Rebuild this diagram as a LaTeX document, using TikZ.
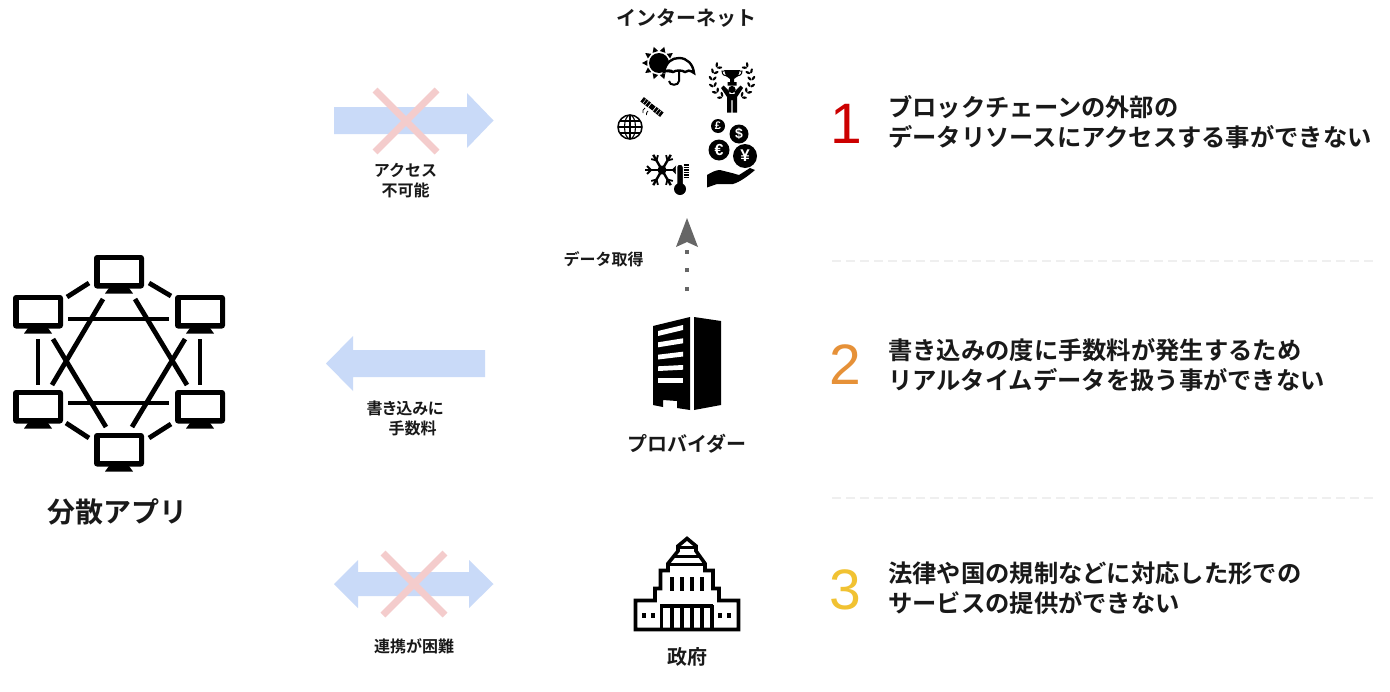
\documentclass[tikz,border=0pt]{standalone}
\usetikzlibrary{calc}
\usepackage{fontspec}
\setmainfont{Noto Sans CJK JP}[BoldFont={Noto Sans CJK JP Bold}]
\newfontfamily\numfont{Liberation Sans}
\definecolor{arrowblue}{HTML}{C9DAF8}
\definecolor{crossred}{HTML}{F4CCCC}
\definecolor{sepgrey}{HTML}{EFEFEF}
\definecolor{dotgrey}{HTML}{666666}
\definecolor{numred}{HTML}{CC0000}
\definecolor{numorange}{HTML}{E69138}
\definecolor{numyellow}{HTML}{F1C232}
\tikzset{
  lab/.style={font=\fontsize{16}{20}\selectfont\bfseries,inner sep=0pt,text=black!90,align=center},
  head/.style={font=\fontsize{20}{24}\selectfont\bfseries,inner sep=0pt,text=black!90},
  big/.style={font=\fontsize{28}{32}\selectfont\bfseries,inner sep=0pt,text=black!90},
  body/.style={font=\fontsize{24.3}{30}\selectfont\bfseries,inner sep=0pt,anchor=west,text=black!90,align=left},
  num/.style={font=\fontsize{57}{57}\numfont,inner sep=0pt},
  bluearrow/.style={fill=arrowblue,draw=none},
  crossline/.style={draw=crossred,line width=7pt},
  sep/.style={draw=sepgrey,line width=2pt,dash pattern=on 9pt off 5pt},
  link/.style={draw=black,line width=4.8pt},
  monitor/.pic={
    \fill[black,rounded corners=3pt] (0,0) rectangle (50,33.5);
    \fill[white] (5.5,5) rectangle (44.5,28);
    \fill[black] (15,33) -- (35,33) -- (39,38.5) -- (11,38.5) -- cycle;
  },
  coin/.style={fill=black,draw=none,circle,inner sep=0pt},
  icon/.style={line width=3.6pt,draw=black,line join=miter},
}
\begin{document}
\begin{tikzpicture}[x=1pt,y=-1pt]
\useasboundingbox (0,0) rectangle (1390,691);
\fill[white] (0,0) rectangle (1390,691);

% decentralised network
\pic at (94,255) {monitor};
\pic at (13,295) {monitor};
\pic at (175,295) {monitor};
\pic at (13,390) {monitor};
\pic at (175,390) {monitor};
\pic at (94,433) {monitor};
\draw[link] (67,297) -- (89,283);
\draw[link] (149,283) -- (171,296);
\draw[link] (68,319) -- (169,319);
\draw[link] (68,403) -- (169,403);
\draw[link] (38,339) -- (38,385);
\draw[link] (200,339) -- (200,385);
\draw[link] (103,299) -- (52,385);
\draw[link] (135,299) -- (187,385);
\draw[link] (53,339) -- (106,427);
\draw[link] (185,339) -- (132,427);
\draw[link] (66,423) -- (89,438);
\draw[link] (149,438) -- (171,424);
\node[big] (app) at (117.5,512) {分散アプリ};

% top arrow
\fill[bluearrow] (334,107) -- (467,107) -- (467,93) -- (493.5,120.5) -- (467,148) -- (467,134) -- (334,134) -- cycle;
\draw[crossline] (375,90) -- (437,152);
\draw[crossline] (437,90) -- (375,152);
\node[lab] (access) at (405.5,181) {アクセス\\不可能};

% middle arrow
\fill[bluearrow] (485,350) -- (353,350) -- (353,336) -- (326,363.5) -- (353,391) -- (353,377) -- (485,377) -- cycle;
\node[lab] (write1) at (405,408) {\addfontfeatures{RawFeature=+palt}書き込みに};
\node[lab] (write2) at (412.5,428) {手数料};

% bottom arrow
\fill[bluearrow] (334,584) -- (358,560) -- (358,572) -- (469,572) -- (469,560) -- (493.5,584) -- (469,608) -- (469,596) -- (358,596) -- (358,608) -- cycle;
\draw[crossline] (383,553) -- (445,615);
\draw[crossline] (445,553) -- (383,615);
\node[lab] (gov) at (414,646) {連携が困難};

% internet
\node[head] (internet) at (686,18) {インターネット};
% sun
\fill[black] (659,63) circle (10);
\foreach \a in {0,36,...,324}
  \fill[black] ($(659,63)+(\a:17)$) -- ($(659,63)+(\a+14:12)$) -- ($(659,63)+(\a-14:12)$) -- cycle;
% umbrella
\draw[black,line width=2.4pt,fill=white] (664,72) .. controls (666,62) and (672,58) .. (679,58) .. controls (687,58) and (693,64) .. (694,73) .. controls (690,70) and (687,70) .. (685,72) .. controls (682,70) and (676,70) .. (673,72) .. controls (671,70) and (667,70) .. (664,72) -- cycle;
\draw[black,line width=2pt] (679,71) -- (679,81) .. controls (679,86) and (669,86) .. (669,81);
% trophy + person
\fill[black] (732,89.5) circle (3.6);
\fill[black] (721,88) -- (723.5,85.5) -- (729,91) -- (729.5,94) -- (734.5,94) -- (735,91) -- (740.5,85.5) -- (743,88) -- (737,97) -- (737,112.5) -- (732.6,112.5) -- (732.6,100) -- (731.4,100) -- (731.4,112.5) -- (727,112.5) -- (727,97) -- cycle;
\fill[black] (724,70) -- (740,70) -- (738,76) -- (734,79) -- (734,82) -- (736.5,82) -- (736.5,85.5) -- (727.5,85.5) -- (727.5,82) -- (730,82) -- (730,79) -- (726,76) -- cycle;
\draw[black,line width=1pt] (724,71) -- (722,71) .. controls (722,75) and (725,76) .. (727,76);
\draw[black,line width=1pt] (740,71) -- (742,71) .. controls (742,75) and (739,76) .. (737,76);
\foreach \a in {125,145,165,185,205,225}{
  \fill[black,rotate around={-\a+130:($(732,80)+(\a:21.5)$)}] ($(732,80)+(\a:21.5)$) ellipse (2.6 and 1.2);
  \fill[black,rotate around={-\a+50:($(732,80)+(\a:17.5)$)}] ($(732,80)+(\a:17.5)$) ellipse (2.6 and 1.2);
}
\foreach \a in {55,35,15,-5,-25,-45}{
  \fill[black,rotate around={-\a+50:($(732,80)+(\a:21.5)$)}] ($(732,80)+(\a:21.5)$) ellipse (2.6 and 1.2);
  \fill[black,rotate around={-\a+130:($(732,80)+(\a:17.5)$)}] ($(732,80)+(\a:17.5)$) ellipse (2.6 and 1.2);
}
% satellite
\begin{scope}[shift={(652,107)},rotate=-38]
  \fill[black] (-2.5,-2.5) rectangle (2.5,2.5);
  \fill[black] (-12.5,-2.8) rectangle (-3.5,2.8);
  \fill[black] (3.5,-2.8) rectangle (12.5,2.8);
  \draw[white,line width=.4pt] (-9.5,-2.8) -- (-9.5,2.8) (-6.5,-2.8) -- (-6.5,2.8) (6.5,-2.8) -- (6.5,2.8) (9.5,-2.8) -- (9.5,2.8);
\end{scope}
\draw[black,line width=.8pt] (645,108) .. controls (643,109) and (642.5,111) .. (643,113);
\draw[black,line width=.8pt] (648,111) .. controls (647,112) and (646,113) .. (646.5,115);
% globe
\draw[black,line width=1.5pt] (630,127) circle (12);
\draw[black,line width=1.1pt] (630,127) ellipse (5.5 and 12);
\draw[black,line width=1.1pt] (630,115) -- (630,139) (618,127) -- (642,127) (620,121) -- (640,121) (620,133) -- (640,133);
% snowflake
\foreach \a in {0,60,...,300}{
  \draw[black,line width=2.4pt] (662,170) -- ++(\a:17.5);
  \draw[black,line width=1.8pt] ($(662,170)+(\a:11)$) -- ++(\a+45:5.5);
  \draw[black,line width=1.8pt] ($(662,170)+(\a:11)$) -- ++(\a-45:5.5);
}
\fill[black] (662,170) circle (4.5);
% thermometer
\draw[white,line width=1.5pt,fill=black,rounded corners=3pt] (676.5,192) -- (676.5,164) -- (683.5,164) -- (683.5,192) -- cycle;
\fill[black] (680,189) circle (6);
\foreach \yy in {165,167.5,170,172.5,175,177.5}
  \draw[black,line width=1.2pt] (683.5,\yy) -- (689,\yy);
% coins
\node[coin,minimum size=14pt,text=white,font=\fontsize{11}{11}\numfont\bfseries] (pound) at (718,126) {£};
\node[coin,minimum size=19pt,text=white,font=\fontsize{14}{14}\numfont\bfseries] (dollar) at (739,134) {\$};
\node[coin,minimum size=21pt,text=white,font=\fontsize{16}{16}\numfont\bfseries] (euro) at (719,150) {€};
\node[coin,minimum size=24pt,text=white,font=\fontsize{17}{17}\numfont\bfseries] (yen) at (745,156) {¥};
% hand
\fill[black] (707,175) .. controls (712,172) and (716,170) .. (720,170) -- (732,173) .. controls (736,174) and (738,175) .. (739,175) -- (750,168) -- (755,170) .. controls (748,176) and (740,182) .. (733,184) -- (717,184) -- (707,187.5) -- cycle;

% data fetch arrow
\coordinate (dotstart) at (687,291);
\coordinate (dotend) at (687,250);
\draw[dotgrey,line width=4pt,dash pattern=on 4pt off 14.7pt] (dotstart) -- (dotend);
\fill[dotgrey] (687,218) -- (698,247) -- (687,242) -- (676,247) -- cycle;
\node[lab] (fetch) at (603.5,259) {データ取得};

% building
\fill[black] (653,326) -- (690,317) -- (690,410) -- (677,408) -- (677,401) -- (663,400) -- (663,407) -- (653,405) -- cycle;
\fill[black] (694,317) -- (721,321) -- (721,405) -- (694,410) -- cycle;
\fill[white] (658,331) -- (683,325) -- (683,330) -- (658,336) -- cycle;
\fill[white] (658,342.3) -- (683,338.3) -- (683,343.3) -- (658,347.3) -- cycle;
\fill[white] (658,354.7) -- (683,351.7) -- (683,356.5) -- (658,359.5) -- cycle;
\fill[white] (658,366.3) -- (683,365) -- (683,369.7) -- (658,371) -- cycle;
\fill[white] (658,378.3) -- (683,378.3) -- (683,383.3) -- (658,383.3) -- cycle;
\node[head] (provider) at (687,444) {プロバイダー};

% parliament
\draw[icon] (635.5,600.5) -- (655,600.5) -- (655,588.5) -- (660.5,588.5) -- (660.5,570.5) -- (668,570.5) -- (668,563.5) -- (678,551) -- (678,546) -- (687,538.5) -- (696,546) -- (696,551) -- (705,563.5) -- (705,570.5) -- (713,570.5) -- (713,588.5) -- (719,588.5) -- (719,600.5) -- (738.5,600.5) -- (738.5,629.5) -- (635.5,629.5) -- cycle;
\draw[black,line width=3pt] (668,564) -- (705,564);
\draw[black,line width=3pt] (674,556) -- (700,556);
\draw[black,line width=2.5pt] (678,547.5) -- (696,547.5);
\draw[black,line width=4pt] (660,606) -- (713,606);
\foreach \xx in {661.5,672,682,692,702,712}
  \draw[black,line width=3.4pt] (\xx,605) -- (\xx,630);
\foreach \xx in {672,682,692,702}
  \fill[black] (\xx-2.2,577) rectangle (\xx+2.2,591);
\foreach \xx in {644,653,720,729}
  \fill[black] (\xx-2.2,613) rectangle (\xx+2.2,617.5);
\node[head] (seifu) at (687,657) {政府};

% separators
\coordinate (s1a) at (832,260.5);
\coordinate (s1b) at (1376,260.5);
\coordinate (s2a) at (832,497.5);
\coordinate (s2b) at (1376,497.5);
\draw[sep] (s1a) -- (s1b);
\draw[sep] (s2a) -- (s2b);

% numbered statements
\node[num,text=numred] (n1) at (846,124) {1};
\node[body] (t1) at (888,122.5) {ブロックチェーンの外部の\\データリソースにアクセスする事ができない};
\node[num,text=numorange] (n2) at (845,365) {2};
\node[body] (t2) at (888,365.5) {書き込みの度に手数料が発生するため\\リアルタイムデータを扱う事ができない};
\node[num,text=numyellow] (n3) at (845,590) {3};
\node[body] (t3) at (888,588.5) {法律や国の規制などに対応した形での\\サービスの提供ができない};
\end{tikzpicture}
\end{document}
